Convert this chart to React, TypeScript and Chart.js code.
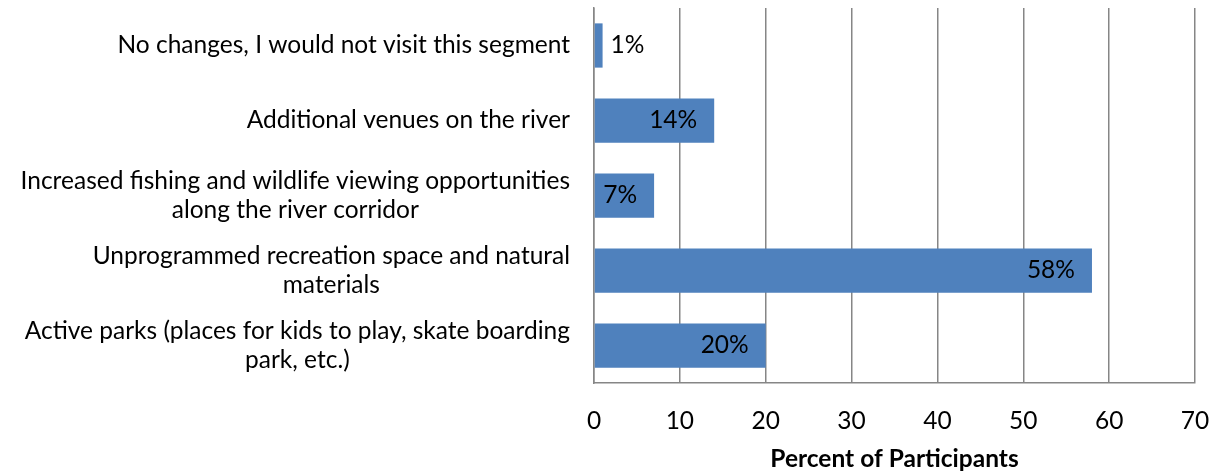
import React, { useEffect, useRef } from "react";
import { Chart, registerables } from "chart.js";

Chart.register(...registerables);

const categories: string[][] = [
  ["No changes, I would not visit this segment"],
  ["Additional venues on the river"],
  ["Increased fishing and wildlife viewing opportunities", "along the river corridor"],
  ["Unprogrammed recreation space and natural", "materials"],
  ["Active parks (places for kids to play, skate boarding", "park, etc.)"],
];
const values: number[] = [1, 14, 7, 58, 20];
const valueLabels: string[] = ["1%", "14%", "7%", "58%", "20%"];
const xTicks = { min: 0, max: 70, step: 10 };
const axisTitle = "Percent of Participants";

const FONT = "Lato";
const FS = 24.5;
const GRID = "#868686";
const BAR = "#4F81BD";

export default function App() {
  const ref = useRef<HTMLCanvasElement | null>(null);
  useEffect(() => {
    if (!ref.current) return;
    const labelsPlugin = {
      id: "customLabels",
      afterDraw(chart: any) {
        const ctx = chart.ctx;
        const y = chart.scales.y;
        const x = chart.scales.x;
        ctx.save();
        ctx.fillStyle = "#000";
        ctx.font = `${FS}px ${FONT}`;
        ctx.textBaseline = "middle";
        categories.forEach((lines, i) => {
          const cy = y.getPixelForTick(i);
          const maxW = Math.max(...lines.map((l) => ctx.measureText(l).width));
          const cx = chart.chartArea.left - 24 - maxW / 2;
          ctx.textAlign = "center";
          lines.forEach((l, j) => {
            ctx.fillText(l, cx, cy + (j - (lines.length - 1) / 2) * 29);
          });
        });
        const meta = chart.getDatasetMeta(0);
        meta.data.forEach((bar: any, i: number) => {
          const v = values[i];
          const end = x.getPixelForValue(v);
          if (v < 5) {
            ctx.textAlign = "left";
            ctx.fillText(valueLabels[i], end + 8, bar.y);
          } else {
            ctx.textAlign = "right";
            ctx.fillText(valueLabels[i], end - 17, bar.y);
          }
        });
        ctx.restore();
      },
    };
    const chart = new Chart(ref.current, {
      type: "bar",
      data: {
        labels: categories.map((c) => c.join(" ")),
        datasets: [
          {
            data: values,
            backgroundColor: BAR,
            borderWidth: 0,
            barPercentage: 0.59,
            categoryPercentage: 1,
          },
        ],
      },
      options: {
        indexAxis: "y",
        animation: false,
        responsive: true,
        maintainAspectRatio: false,
        layout: { padding: { top: 8, right: 22, left: 0, bottom: 0 } },
        plugins: {
          legend: { display: false },
          tooltip: { enabled: false },
        },
        scales: {
          x: {
            min: xTicks.min,
            max: xTicks.max,
            ticks: {
              stepSize: xTicks.step,
              color: "#000",
              font: { family: FONT, size: FS },
              padding: 23,
              maxRotation: 0,
            },
            grid: { color: GRID, lineWidth: 1.5, drawTicks: false },
            border: { display: true, color: GRID, width: 1.5 },
            title: {
              display: true,
              text: axisTitle,
              color: "#000",
              font: { family: FONT, size: FS, weight: "bold" },
              padding: { top: 0, bottom: 0 },
            },
            afterFit: (s: any) => {
              s.height = 91;
              s.paddingLeft = 0;
              s.paddingRight = 0;
            },
          },
          y: {
            ticks: { display: false },
            grid: { display: false, drawTicks: false },
            border: { display: true, color: GRID, width: 1.5 },
            afterFit: (s: any) => {
              s.width = 594;
            },
          },
        },
      },
      plugins: [labelsPlugin],
    });
    return () => chart.destroy();
  }, []);
  return (
    <div style={{ position: "fixed", left: 0, top: 0, width: 1217, height: 474, background: "#fff" }}>
      <canvas ref={ref} />
    </div>
  );
}
